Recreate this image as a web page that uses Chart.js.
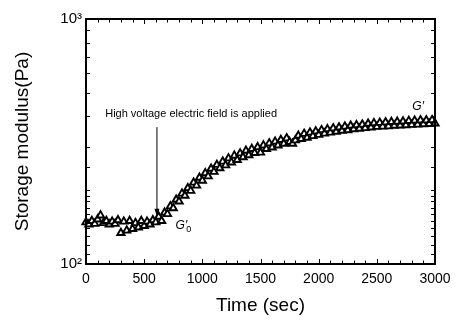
<!DOCTYPE html>
<html>
<head>
<meta charset="utf-8">
<script src="https://cdn.jsdelivr.net/npm/chart.js@4/dist/chart.umd.min.js"></script>
<style>
  html,body{margin:0;padding:0;background:#fff;}
  #wrap{width:458px;height:320px;}
</style>
</head>
<body>
<div id="wrap"><canvas id="c" width="458" height="320"></canvas></div>
<script>
// time (sec) of each sample
const times=[
  0,25,50,75,100,125,150,175,200,225,
  250,275,300,325,350,375,400,425,450,475,
  500,525,550,575,600,625,650,675,700,725,
  750,775,800,825,850,875,900,925,950,975,
  1000,1025,1050,1075,1100,1125,1150,1175,1200,1225,
  1250,1275,1300,1325,1350,1375,1400,1425,1450,1475,
  1500,1525,1550,1575,1600,1625,1650,1675,1700,1725,
  1750,1775,1800,1825,1850,1875,1900,1925,1950,1975,
  2000,2025,2050,2075,2100,2125,2150,2175,2200,2225,
  2250,2275,2300,2325,2350,2375,2400,2425,2450,2475,
  2500,2525,2550,2575,2600,2625,2650,2675,2700,2725,
  2750,2775,2800,2825,2850,2875,2900,2925,2950,2975,
  3000
];
// G' storage modulus (Pa)
const storageModulus=[
  148,145,150,146,152,158,147,150,145,149,
  146,151,134,149,137,150,139,147,141,150,
  143,149,145,151,148,156,150,162,160,172,
  169,183,180,194,190,204,199,215,209,225,
  219,235,228,245,238,254,246,262,253,270,
  260,277,266,283,273,290,278,295,284,300,
  285,305,295,311,299,316,305,321,310,326,
  315,310,320,334,324,340,328,344,333,348,
  337,352,341,355,344,358,347,361,350,364,
  352,367,355,369,357,371,359,374,361,376,
  363,377,364,379,365,380,367,381,368,382,
  369,384,370,385,371,386,372,386,373,387,
  375
];
const xTickLabels=[0,500,1000,1500,2000,2500,3000];
const yTickLabels={100:'10\u00b2',1000:'10\u00b3'};

const FONT='"Liberation Sans", Arial, Helvetica, sans-serif';

// frame, inward ticks and text notes
const framePlugin={
  id:'frame',
  afterDraw(chart){
    const {ctx,chartArea:a,scales:{x,y}}=chart;
    ctx.save();
    ctx.strokeStyle='#000';
    ctx.lineWidth=1;
    ctx.beginPath();
    x.ticks.forEach(t=>{
      const px=Math.round(x.getPixelForValue(t.value))+0.5;
      const len=t.value%500===0?5:3.5;
      ctx.moveTo(px,a.bottom);ctx.lineTo(px,a.bottom-len);
      ctx.moveTo(px,a.top);ctx.lineTo(px,a.top+len);
    });
    y.ticks.forEach(t=>{
      const py=Math.round(y.getPixelForValue(t.value))+0.5;
      ctx.moveTo(a.left,py);ctx.lineTo(a.left+4,py);
      ctx.moveTo(a.right,py);ctx.lineTo(a.right-4,py);
    });
    ctx.stroke();
    ctx.lineWidth=2;
    ctx.strokeRect(a.left,a.top,a.right-a.left,a.bottom-a.top);

    // arrow
    const ax=x.getPixelForValue(610);
    const ay0=y.getPixelForValue(362), ay1=y.getPixelForValue(156);
    ctx.lineWidth=1;
    ctx.beginPath();ctx.moveTo(ax,ay0);ctx.lineTo(ax,ay1-6);ctx.stroke();
    ctx.fillStyle='#000';
    ctx.beginPath();ctx.moveTo(ax,ay1);ctx.lineTo(ax-2.5,ay1-8);ctx.lineTo(ax+2.5,ay1-8);ctx.closePath();ctx.fill();

    ctx.textBaseline='middle';
    ctx.textAlign='left';
    ctx.font='11px '+FONT;
    ctx.fillText('High voltage electric field is applied',x.getPixelForValue(165),y.getPixelForValue(410));

    ctx.font='italic 12px '+FONT;
    const gx=x.getPixelForValue(770), gy=y.getPixelForValue(143);
    ctx.fillText('G\u2032',gx,gy);
    const w=ctx.measureText('G\u2032').width;
    ctx.font='9px '+FONT;
    ctx.fillText('0',gx+w-1,gy+4);

    ctx.font='italic 12px '+FONT;
    ctx.fillText('G\u2032',x.getPixelForValue(2805),y.getPixelForValue(437));
    ctx.restore();
  }
};

new Chart(document.getElementById('c'),{
  type:'scatter',
  data:{
    datasets:[{
      label:"G'",
      data:times.map((t,i)=>({x:t,y:storageModulus[i]})),
      showLine:false,
      pointStyle:'triangle',
      pointRadius:4.2,
      pointBorderWidth:1.9,
      pointBorderColor:'#000',
      pointBackgroundColor:'#fff',
      clip:false
    }]
  },
  options:{
    responsive:false,
    animation:false,
    devicePixelRatio:1,
    layout:{padding:{top:19,right:23,left:0,bottom:0}},
    plugins:{legend:{display:false},tooltip:{enabled:false}},
    scales:{
      x:{
        type:'linear',min:0,max:3000,
        grid:{display:false,drawTicks:false},
        border:{display:false},
        ticks:{
          stepSize:100,autoSkip:false,maxRotation:0,padding:7,color:'#000',
          font:{family:FONT,size:14},
          callback:v=>xTickLabels.includes(v)?String(v):''
        },
        title:{display:true,text:'Time (sec)',color:'#000',font:{family:FONT,size:19},padding:{top:3,bottom:3}},
        afterFit(s){s.height=56;}
      },
      y:{
        type:'logarithmic',min:100,max:1000,
        grid:{display:false,drawTicks:false},
        border:{display:false},
        ticks:{
          autoSkip:false,padding:4,color:'#000',
          font:{family:FONT,size:15},
          callback:v=>yTickLabels[v]||''
        },
        title:{display:true,text:'Storage modulus(Pa)',color:'#000',font:{family:FONT,size:19},padding:{top:11,bottom:0}},
        afterFit(s){s.width=86;}
      }
    }
  },
  plugins:[framePlugin]
});
</script>
</body>
</html>
